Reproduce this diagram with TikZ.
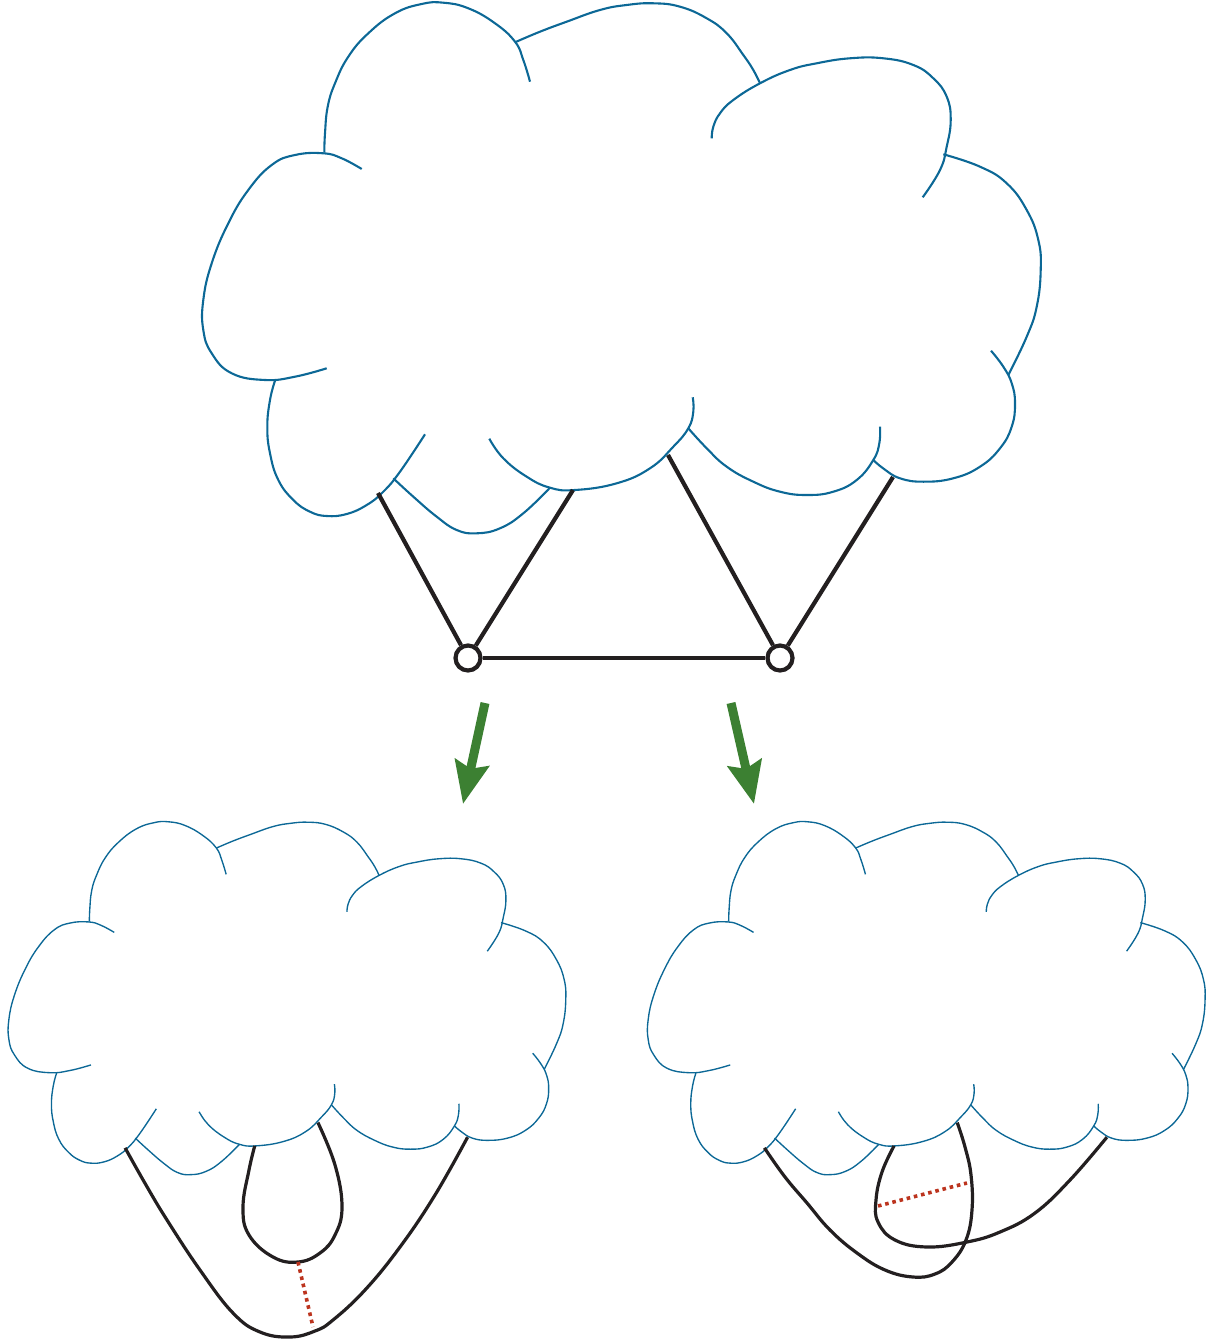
\documentclass[tikz,border=0pt]{standalone}
\usetikzlibrary{arrows.meta}
\definecolor{cloudblue}{RGB}{12,104,150}
\definecolor{edgeblack}{RGB}{35,31,32}
\definecolor{arrowgreen}{RGB}{60,128,50}
\definecolor{dotred}{RGB}{188,52,30}
\newcommand{\mycloud}{%
  % lobe J (left)
  \draw[cloudline] plot[smooth,tension=0.75] coordinates {(361.7,169) (341.7,158.3) (323.3,153.3) (295,155) (271.7,165) (248.3,190) (228.3,223.3) (211.7,263.3) (203.3,300) (203.3,330) (211.7,353.3) (231.7,373.3) (265,380) (295,376.7) (326.7,368.3)};
  % lobe A (top left)
  \draw[cloudline] plot[smooth,tension=0.75] coordinates {(324.3,152.7) (325,133.3) (327.7,106.7) (335,83.3) (348.3,56.7) (368.3,33.3) (395,13.3) (421.7,4) (443.3,2.7) (468.3,8.3) (495,23.3) (515,41.7) (523.3,60) (530,81.7)};
  % lobe B (top middle)
  \draw[cloudline] plot[smooth,tension=0.75] coordinates {(515,42.3) (540,31.7) (566.7,21.7) (600,10) (626.7,5) (653.3,3.3) (680,6.7) (706.7,18.3) (726.7,33.3) (743.3,55) (753.3,70) (760,83.3)};
  % lobe C (top right)
  \draw[cloudline] plot[smooth,tension=0.75] coordinates {(711.7,138.3) (713.3,126.7) (720,113.3) (733.3,100) (760,83.3) (790,70) (816.7,63.3) (850,58.3) (883.3,58.3) (913.3,65) (933.3,78.3) (946.7,96.7) (950.7,120) (946.7,146.7) (940,170) (922.7,197.3)};
  % lobe D (right)
  \draw[cloudline] plot[smooth,tension=0.75] coordinates {(943.3,154.3) (980,166.7) (1006.7,183.3) (1026.7,210) (1038.3,240) (1040.7,270) (1036.7,306.7) (1026.7,336.7) (1008.3,375)};
  % lobe E (lower right)
  \draw[cloudline] plot[smooth,tension=0.75] coordinates {(991,350.7) (1003.3,366.7) (1011.7,383.3) (1015,403.3) (1011.7,426.7) (1000,448.3) (980,466.7) (953.3,478.3) (923.3,481.7) (900,478.3) (884,469) (873.3,460)};
  % lobe F (bottom right)
  \draw[cloudline] plot[smooth,tension=0.75] coordinates {(880,426.7) (879.3,443.3) (873.3,460) (856.7,480) (833.3,491.7) (806.7,495) (780,491.7) (753.3,481.7) (726.7,466.7) (706.7,448.3) (688.3,428.3)};
  % lobe G (bottom middle)
  \draw[cloudline] plot[smooth,tension=0.75] coordinates {(489.3,438.7) (503.3,458.3) (526.7,476.7) (550,487.7) (575,490) (616.7,483.3) (650,468.3) (673.3,446.7) (688.3,428.3) (693.3,411.7) (692.7,397.3)};
  % lobe H (small bottom)
  \draw[cloudline] plot[smooth,tension=0.75] coordinates {(393.3,478.3) (413.3,496.7) (436.7,516.7) (456.7,530) (476.7,533.3) (500,528.3) (523.3,513.3) (550,487.7)};
  % lobe I (bottom left)
  \draw[cloudline] plot[smooth,tension=0.75] coordinates {(275,380.7) (270,400) (267.3,426.7) (270,453.3) (278.3,480) (293.3,500) (310,511.7) (326.7,516) (346.7,514) (366.7,505) (383.3,491.7) (400,471.7) (425,434.3)};
  % attachment points
  \coordinate (pa) at (378,493);
  \coordinate (pb) at (573,490);
  \coordinate (pc) at (668,455);
  \coordinate (pd) at (893,477);
}
\tikzset{
  cloudline/.style={draw=cloudblue, line width=1.05pt, line cap=butt},
  edgeline/.style={draw=edgeblack, line width=2.1pt},
  vertex/.style={circle, draw=edgeblack, fill=white, line width=2.1pt, minimum size=12.5pt, inner sep=0pt},
  garrow/.style={draw=arrowgreen, line width=4.5pt, -{Stealth[length=21pt,width=17pt,inset=3pt,fill=arrowgreen]}},
  bcurve/.style={draw=edgeblack, line width=1.6pt},
  reddots/.style={draw=dotred, line width=1.8pt, dash pattern=on 1.8pt off 1.9pt},
}
\begin{document}
\begin{tikzpicture}[x=0.5pt,y=-0.5pt]
\useasboundingbox (0,0) rectangle (1209,1342);

% ---------- top cloud ----------
\begin{scope}
  \mycloud
  \coordinate (ta) at (pa);
  \coordinate (tb) at (pb);
  \coordinate (tc) at (pc);
  \coordinate (td) at (pd);
\end{scope}
\node[vertex] (v1) at (468,658) {};
\node[vertex] (v2) at (780,658) {};
\draw[edgeline] (ta) -- (v1);
\draw[edgeline] (tb) -- (v1);
\draw[edgeline] (tc) -- (v2);
\draw[edgeline] (td) -- (v2);
\draw[edgeline] (v1) -- (v2);

% ---------- arrows ----------
\coordinate (a1s) at (485,703);
\coordinate (a1e) at (463,804);
\coordinate (a2s) at (731,703);
\coordinate (a2e) at (754,804);
\draw[garrow] (a1s) -- (a1e);
\draw[garrow] (a2s) -- (a2e);

% ---------- bottom left ----------
\begin{scope}[shift={(-126.3,820)}, scale=0.665, cloudline/.style={draw=cloudblue, line width=0.68pt}]
  \mycloud
  \coordinate (la) at (pa);
  \coordinate (lb) at (pb);
  \coordinate (lc) at (pc);
  \coordinate (ld) at (pd);
\end{scope}
\coordinate (lloopbot) at (298,1262);
\coordinate (lubot) at (313,1327);
\draw[bcurve] plot[smooth,tension=0.7] coordinates {(la) (146,1185) (167,1220) (200,1270) (233,1313) (260,1332) (290,1337) (315,1331) (333,1320) (365,1290) (400,1247) (435,1195) (ld)};
\draw[bcurve] plot[smooth,tension=0.7] coordinates {(lb) (249,1170) (243,1207) (249,1235) (273,1257) (lloopbot) (320,1253) (335,1235) (342,1207) (335,1165) (lc)};
\draw[reddots] (lloopbot) -- (lubot);

% ---------- bottom right ----------
\begin{scope}[shift={(513,820)}, scale=0.665, cloudline/.style={draw=cloudblue, line width=0.68pt}]
  \mycloud
  \coordinate (ra) at (pa);
  \coordinate (rb) at (pb);
  \coordinate (rc) at (pc);
  \coordinate (rd) at (pd);
\end{scope}
\coordinate (rdl) at (878,1206);
\coordinate (rdr) at (967,1183);
\draw[bcurve] plot[smooth,tension=0.7] coordinates {(ra) (785,1177) (807,1203) (830,1230) (857,1253) (885,1270) (913,1277) (935,1274) (952,1262) (966,1240) (972,1210) (971,1175) (965,1147) (rc)};
\draw[bcurve] plot[smooth,tension=0.7] coordinates {(rb) (882,1172) (876,1200) (878,1222) (895,1240) (927,1247) (967,1242) (1000,1232) (1035,1213) (1070,1180) (rd)};
\draw[reddots] (rdl) -- (rdr);
\end{tikzpicture}
\end{document}
